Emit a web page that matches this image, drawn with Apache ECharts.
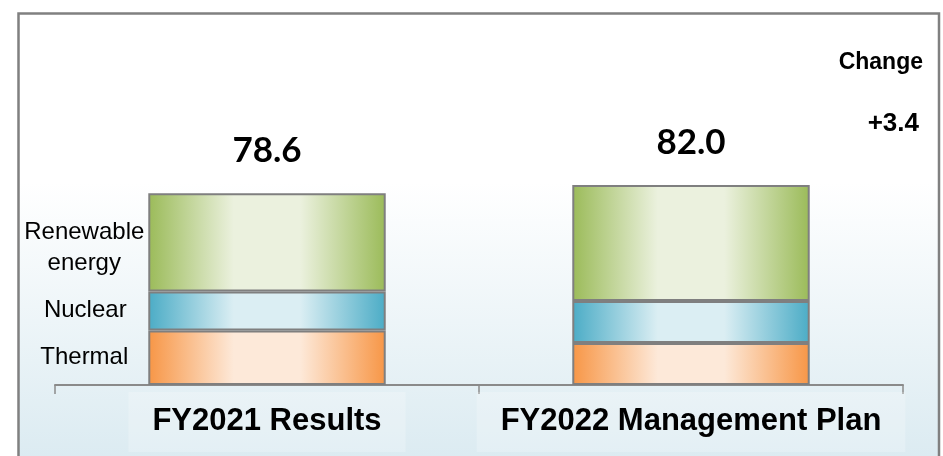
<!DOCTYPE html>
<html>
<head>
<meta charset="utf-8">
<script src="https://cdn.jsdelivr.net/npm/echarts@6/dist/echarts.min.js"></script>
<style>
  html, body { margin: 0; padding: 0; background: #fff; }
  #chart { width: 943px; height: 456px; }
</style>
</head>
<body>
<div id="chart"></div>
<script>
// categories and stacked values
const categories = ['FY2021 Results', 'FY2022 Management Plan'];
const thermal = [22.3, 17.2];
const nuclear = [16.0, 17.2];
const renewable = [40.3, 47.6];
const sourceNames = ['Thermal', 'Nuclear', 'Renewable\nenergy'];

const totals = categories.map((_, i) => thermal[i] + nuclear[i] + renewable[i]);
const change = totals[1] - totals[0];

const chart = echarts.init(document.getElementById('chart'));

// horizontal "cylinder" gradient: saturated edges, pale middle
function barFill(edge, light) {
  return new echarts.graphic.LinearGradient(0, 0, 1, 0, [
    { offset: 0, color: edge },
    { offset: 0.36, color: light },
    { offset: 0.64, color: light },
    { offset: 1, color: edge }
  ]);
}

const sideLabel = {
  fontFamily: 'Liberation Sans, Arial',
  fontSize: 24,
  lineHeight: 31,
  fontWeight: 'normal',
  color: '#000',
  align: 'center',
  verticalAlign: 'middle'
};

// only the first bar carries the source names on its left
function withSideLabel(values, name, pos) {
  return values.map((v, i) => i === 0
    ? { value: v, label: Object.assign({ show: true, position: pos, formatter: name }, sideLabel) }
    : v);
}

const barStyle = (edge, light) => ({
  color: barFill(edge, light),
  borderColor: '#7f7f7f',
  borderWidth: 2
});

const option = {
  animation: false,
  graphic: [
    {
      type: 'rect',
      z: -10,
      shape: { x: 18.5, y: 13.5, width: 920.5, height: 470 },
      style: {
        fill: new echarts.graphic.LinearGradient(0, 0, 0, 1, [
          { offset: 0, color: '#ffffff' },
          { offset: 0.36, color: '#ffffff' },
          { offset: 1, color: '#d8e9f0' }
        ]),
        stroke: '#808080',
        lineWidth: 2.5
      }
    },
    {
      type: 'text',
      right: 20,
      top: 51,
      style: {
        text: 'Change',
        font: 'bold 23px "Liberation Sans", Arial',
        fill: '#000'
      }
    },
    {
      type: 'text',
      right: 24,
      top: 111,
      style: {
        text: (change >= 0 ? '+' : '') + change.toFixed(1),
        font: 'bold 26px "Liberation Sans", Arial',
        fill: '#000'
      }
    }
  ],
  grid: { left: 55, right: 40, top: 141, bottom: 71 },
  xAxis: {
    type: 'category',
    data: categories,
    axisLine: { lineStyle: { color: '#8a8a8a', width: 2 } },
    axisTick: { show: true, length: 9, lineStyle: { color: '#8a8a8a', width: 1.5 } },
    axisLabel: {
      interval: 0,
      hideOverlap: false,
      margin: 7,
      fontFamily: 'Liberation Sans, Arial',
      fontWeight: 'bold',
      fontSize: 31,
      lineHeight: 31,
      color: '#000',
      padding: [14, 24, 15, 24],
      backgroundColor: 'rgba(255,255,255,0.22)'
    }
  },
  yAxis: {
    type: 'value',
    min: 0,
    max: 100,
    show: false
  },
  series: [
    {
      name: 'Thermal',
      type: 'bar',
      stack: 'total',
      barWidth: '56%',
      itemStyle: barStyle('#f79646', '#fde9d9'),
      data: withSideLabel(thermal, sourceNames[0], [-64, '50%'])
    },
    {
      name: 'Nuclear',
      type: 'bar',
      stack: 'total',
      itemStyle: barStyle('#4bacc6', '#dbeef3'),
      data: withSideLabel(nuclear, sourceNames[1], [-63, '48%'])
    },
    {
      name: 'Renewable energy',
      type: 'bar',
      stack: 'total',
      itemStyle: barStyle('#9bbb59', '#ebf1de'),
      data: withSideLabel(renewable, sourceNames[2], [-64, '56%'])
    },
    {
      // empty cap on the stack that only carries the total above each bar
      name: 'Total',
      type: 'bar',
      stack: 'total',
      itemStyle: { color: 'transparent', borderWidth: 0 },
      data: categories.map(() => 0),
      label: {
        show: true,
        position: 'top',
        distance: 25,
        fontFamily: 'Lato, Carlito, sans-serif',
        fontWeight: 'bold',
        fontSize: 35,
        color: '#000',
        formatter: p => totals[p.dataIndex].toFixed(1)
      }
    }
  ]
};

chart.setOption(option);
</script>
</body>
</html>
